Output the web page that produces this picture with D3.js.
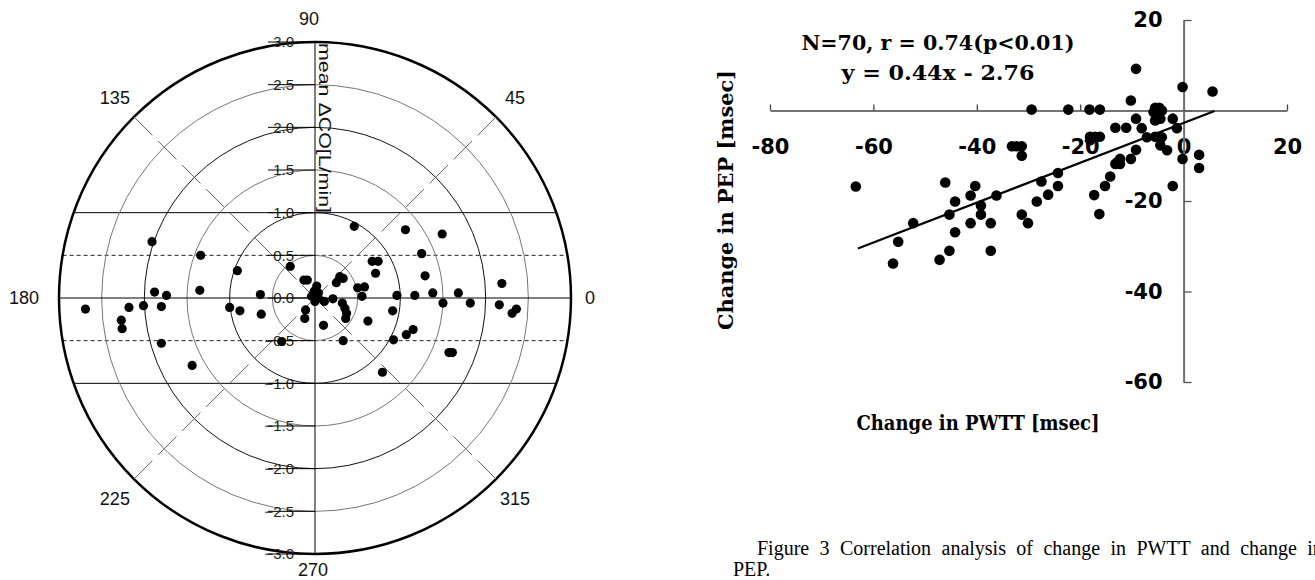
<!DOCTYPE html>
<html>
<head>
<meta charset="utf-8">
<script src="https://cdn.jsdelivr.net/npm/d3@7"></script>
<style>
  body { margin: 0; background: #fff; }
</style>
</head>
<body>
<svg id="chart" width="1315" height="580"></svg>
<script>
// ---- left: polar plot, points as (x, y) components in L/min
var polarX = [-1.91, -1.34, -0.91, -0.29, -0.13, -0.09, 0.02, -1.88, -1.74, -1.35,
              -0.64, -2.69, -2.18, -2.01, -1.80, -2.27, -2.26, -1.80, -1.44, -1.00,
              -0.88, -0.63, -0.39, -0.11, -0.12, 0.10, -0.01, 0.04, -0.04, 0.04,
              0.00, 0.21, 0.11, 0.32, 0.35, 0.37, 0.36, 0.33, 0.55, 0.50,
              0.58, 0.62, 0.91, 0.92, 0.96, 1.17, 1.38, 1.68, 1.50, 1.82,
              1.07, 1.15, 1.57, 1.61, 0.79, 2.16, 2.31, 2.36, 0.46, 1.06,
              1.49, 1.25, 0.67, 0.74, 0.71, 1.29, 2.19, 0.29, 0.33, 0.25];
var polarY = [0.66, 0.50, 0.32, 0.37, 0.21, 0.21, 0.14, 0.07, 0.03, 0.09,
              0.04, -0.13, -0.11, -0.09, -0.10, -0.26, -0.36, -0.53, -0.79, -0.11,
              -0.15, -0.19, -0.51, -0.14, -0.24, -0.32, 0.08, 0.06, 0.02, 0.00,
              -0.04, -0.01, -0.04, -0.06, -0.12, -0.18, -0.24, -0.50, 0.02, 0.12,
              0.13, -0.27, -0.15, -0.49, 0.03, 0.03, 0.06, 0.06, -0.06, -0.06,
              -0.43, -0.37, -0.64, -0.64, -0.87, -0.08, -0.18, -0.13, 0.84, 0.80,
              0.75, 0.52, 0.43, 0.43, 0.29, 0.26, 0.17, 0.25, 0.23, 0.18];
var ringValues = [0.5, 1, 1.5, 2, 2.5, 3];
var radialTicks = [3, 2.5, 2, 1.5, 1, 0.5, 0, -0.5, -1, -1.5, -2, -2.5, -3];
var solidLevels = [1, -1];
var dashedLevels = [0.5, -0.5];
var diagonalAngles = [45, 135, 225, 315];
var angleLabels = [0, 45, 90, 135, 180, 225, 270, 315];
var polarTitle = "mean \u0394CO[L/min]";

// ---- right: change in PWTT vs change in PEP [msec]
var pwtt = [-63.4, -56.2, -55.2, -52.3, -47.2, -46.1, -45.3, -45.3, -44.2, -44.2,
            -41.2, -41.2, -40.3, -39.2, -39.2, -37.3, -37.3, -36.2, -33.2, -32.3,
            -31.3, -31.3, -31.3, -30.1, -29.4, -28.4, -27.5, -26.2, -24.3, -24.3,
            -22.3, -18.2, -16.2, -18.1, -17.1, -16.2, -18.1, -17.3, -16.3, -15.2,
            -14.2, -13.2, -12.8, -12.3, -12.3, -10.2, -9.2, -13.2, -11.1, -8.1,
            -7.1, -9.2, -10.2, -9.2, -5.5, -4.7, -4.2, -5.8, -5.2, -4.5,
            -5.5, -5.5, -4.2, -4.5, -3.2, -2.1, -1.3, -2.1, -0.2, -0.2,
            3.0, 3.0, 5.6];
var pep = [-16.8, -33.8, -29.0, -24.9, -33.0, -15.9, -23.0, -31.0, -20.1, -26.9,
           -18.8, -24.9, -16.7, -21.0, -23.0, -24.9, -31.0, -18.8, -7.9, -7.9,
           -7.9, -10.0, -23.0, -24.9, 0.2, -20.1, -15.7, -18.6, -13.8, -16.7,
           0.2, 0.2, 0.2, -5.8, -5.8, -5.8, -6.6, -18.7, -22.9, -16.7,
           -14.6, -11.8, -11.4, -10.7, -11.8, -10.7, -8.7, -3.8, -3.8, -3.9,
           -5.9, -1.8, 2.2, 9.2, 0.6, 0.6, 0.0, -0.4, -1.1, -1.8,
           -2.2, -5.8, -5.9, -7.7, -8.8, -1.8, -3.9, -16.7, -10.7, 5.2,
           -9.8, -12.7, 4.2];
var fitX = [-63, 6];
var fitY = [-30.5, -0.1];
var xTicks = [-80, -60, -40, -20, 0, 20];
var yTicks = [20, 0, -20, -40, -60];
var statText = ["N=70, r = 0.74(p<0.01)", "y = 0.44x - 2.76"];
var xTitle = "Change in PWTT [msec]";
var yTitle = "Change in PEP [msec]";
var captionLines = ["Figure 3 Correlation analysis of change in PWTT and change in", "PEP."];

var svg = d3.select("#chart");
svg.append("rect").attr("width", 1315).attr("height", 580).attr("fill", "#fff");

// ================= polar plot =================
var px = d3.scaleLinear().domain([-3, 3]).range([59, 571]);
var py = d3.scaleLinear().domain([-3, 3]).range([554, 42]);
var cx = px(0), cy = py(0), R = px(3) - px(0);
var unit = px(1) - px(0);

var polar = svg.append("g").attr("font-family", "'Liberation Sans', Arial, sans-serif");

// horizontal bands (chords of the outer circle)
function chord(v) {
  var h = Math.sqrt(R * R - Math.pow(v * unit, 2));
  return [cx - h, cx + h];
}
polar.selectAll(".solidband")
  .data(solidLevels).enter().append("line")
  .attr("x1", function (d) { return chord(d)[0]; })
  .attr("x2", function (d) { return chord(d)[1]; })
  .attr("y1", function (d) { return py(d); })
  .attr("y2", function (d) { return py(d); })
  .attr("stroke", "#000").attr("stroke-width", 1);
polar.selectAll(".dashband")
  .data(dashedLevels).enter().append("line")
  .attr("x1", function (d) { return chord(d)[0]; })
  .attr("x2", function (d) { return chord(d)[1]; })
  .attr("y1", function (d) { return py(d); })
  .attr("y2", function (d) { return py(d); })
  .attr("stroke", "#222").attr("stroke-width", 1)
  .attr("stroke-dasharray", "4,3");

// rings
polar.selectAll(".ring")
  .data(ringValues).enter().append("circle")
  .attr("cx", cx).attr("cy", cy)
  .attr("r", function (d) { return d * unit; })
  .attr("fill", "none")
  .attr("stroke", function (d) { return d === 3 ? "#000" : (d % 1 === 0 ? "#111" : "#777"); })
  .attr("stroke-width", function (d) { return d === 3 ? 2.5 : 1; });

// diagonal spokes, drawn from the rim inwards
polar.selectAll(".spoke")
  .data(diagonalAngles).enter().append("line")
  .attr("x1", function (d) { return cx + R * Math.cos(d * Math.PI / 180); })
  .attr("y1", function (d) { return cy - R * Math.sin(d * Math.PI / 180); })
  .attr("x2", cx).attr("y2", cy)
  .attr("stroke", "#666").attr("stroke-width", 1)
  .attr("stroke-dasharray", "26,8");

// main axes
polar.append("line").attr("x1", cx - R).attr("x2", cx + R)
  .attr("y1", cy).attr("y2", cy).attr("stroke", "#000");
polar.append("line").attr("x1", cx).attr("x2", cx)
  .attr("y1", cy - R).attr("y2", cy + R).attr("stroke", "#000");

// radial tick labels with strike ticks
polar.selectAll(".rlab")
  .data(radialTicks).enter().append("text")
  .attr("x", cx - 21).attr("y", function (d) { return py(d); })
  .attr("dy", "0.36em")
  .attr("text-anchor", "end")
  .attr("font-size", 15).attr("fill", "#222")
  .text(function (d) { return (d < 0 ? "\u2212" : "") + Math.abs(d).toFixed(1); });
polar.selectAll(".rtick")
  .data(radialTicks).enter().append("line")
  .attr("x1", cx - 47).attr("x2", cx)
  .attr("y1", function (d) { return py(d); })
  .attr("y2", function (d) { return py(d); })
  .attr("stroke", "#000").attr("stroke-width", 1);

// angle labels
polar.selectAll(".alab")
  .data(angleLabels).enter().append("text")
  .attr("font-size", 18).attr("fill", "#111")
  .attr("dy", "0.36em")
  .attr("text-anchor", function (d) { return d === 0 ? "start" : (d === 180 ? "end" : "middle"); })
  .attr("x", function (d) {
    if (d === 0) return cx + R + 14;
    if (d === 180) return cx - R - 20;
    if (d === 90) return cx - 6;
    if (d === 270) return cx - 2;
    return cx + 283 * Math.cos(d * Math.PI / 180);
  })
  .attr("y", function (d) {
    if (d === 90) return cy - R - 23;
    if (d === 270) return cy + R + 16;
    return cy - 283 * Math.sin(d * Math.PI / 180);
  })
  .text(function (d) { return d; });

// axis title, rotated along the vertical axis
polar.append("text")
  .attr("transform", "translate(" + (cx + 4) + "," + (cy - R + 1) + ") rotate(90)")
  .attr("font-size", 17).attr("fill", "#111")
  .attr("textLength", 170).attr("lengthAdjust", "spacingAndGlyphs")
  .text(polarTitle);

// points
polar.selectAll(".pdot")
  .data(d3.range(polarX.length)).enter().append("circle")
  .attr("cx", function (i) { return px(polarX[i]); })
  .attr("cy", function (i) { return py(polarY[i]); })
  .attr("r", 4.6).attr("fill", "#000");

// ================= scatter plot =================
var sx = d3.scaleLinear().domain([-80, 20]).range([770, 1287]);
var sy = d3.scaleLinear().domain([-60, 20]).range([382, 20]);
var sc = svg.append("g");
var plain = function (d) { return String(d); };

var xAxis = sc.append("g")
  .attr("transform", "translate(0," + sy(0) + ")")
  .call(d3.axisBottom(sx).tickValues(xTicks).tickSizeInner(-6).tickSizeOuter(0).tickPadding(29)
    .tickFormat(plain));
xAxis.select(".domain").attr("stroke", "#444").attr("stroke-width", 1.3);
xAxis.selectAll(".tick line").attr("stroke", "#444").attr("stroke-width", 1.3);
xAxis.selectAll("text")
  .attr("font-family", "'DejaVu Sans', Verdana, sans-serif")
  .attr("font-weight", "bold").attr("font-size", 21).attr("fill", "#000");

var yAxis = sc.append("g")
  .attr("transform", "translate(" + sx(0) + ",0)")
  .call(d3.axisLeft(sy).tickValues(yTicks).tickSizeInner(-8).tickSizeOuter(0).tickPadding(21)
    .tickFormat(function (d) { return d === 0 ? "" : String(d); }));
yAxis.select(".domain").attr("stroke", "#707070").attr("stroke-width", 2);
yAxis.selectAll(".tick line").attr("stroke", "#555").attr("stroke-width", 1.3);
yAxis.selectAll("text")
  .attr("font-family", "'DejaVu Sans', Verdana, sans-serif")
  .attr("font-weight", "bold").attr("font-size", 21).attr("fill", "#000");

// regression line
sc.append("line")
  .attr("x1", sx(fitX[0])).attr("y1", sy(fitY[0]))
  .attr("x2", sx(fitX[1])).attr("y2", sy(fitY[1]))
  .attr("stroke", "#000").attr("stroke-width", 2.2);

// points
sc.selectAll(".sdot")
  .data(d3.range(pwtt.length)).enter().append("circle")
  .attr("cx", function (i) { return sx(pwtt[i]); })
  .attr("cy", function (i) { return sy(pep[i]); })
  .attr("r", 5.3).attr("fill", "#000");

var serif = "'DejaVu Serif', 'Bookman Old Style', serif";

// statistics text
sc.append("text").attr("x", 938).attr("y", 50)
  .attr("text-anchor", "middle").attr("font-family", serif)
  .attr("font-weight", "bold").attr("font-size", 20)
  .attr("textLength", 273).attr("lengthAdjust", "spacingAndGlyphs")
  .text(statText[0]);
sc.append("text").attr("x", 938).attr("y", 80)
  .attr("text-anchor", "middle").attr("font-family", serif)
  .attr("font-weight", "bold").attr("font-size", 20)
  .attr("textLength", 193).attr("lengthAdjust", "spacingAndGlyphs")
  .text(statText[1]);

// axis titles
sc.append("text").attr("x", 978).attr("y", 430)
  .attr("text-anchor", "middle").attr("font-family", serif)
  .attr("font-weight", "bold").attr("font-size", 20)
  .attr("textLength", 243).attr("lengthAdjust", "spacingAndGlyphs")
  .text(xTitle);
sc.append("text")
  .attr("transform", "translate(733,200) rotate(-90)")
  .attr("text-anchor", "middle").attr("font-family", serif)
  .attr("font-weight", "bold").attr("font-size", 20)
  .attr("textLength", 260).attr("lengthAdjust", "spacingAndGlyphs")
  .text(yTitle);

// caption
svg.append("text").attr("x", 757).attr("y", 555)
  .attr("font-family", "'Liberation Serif', 'Times New Roman', serif")
  .attr("font-size", 20).attr("word-spacing", 5.4).attr("fill", "#000")
  .text(captionLines[0]);
svg.append("text").attr("x", 733).attr("y", 576)
  .attr("font-family", "'Liberation Serif', 'Times New Roman', serif")
  .attr("font-size", 20).attr("fill", "#000")
  .text(captionLines[1]);
</script>
</body>
</html>
